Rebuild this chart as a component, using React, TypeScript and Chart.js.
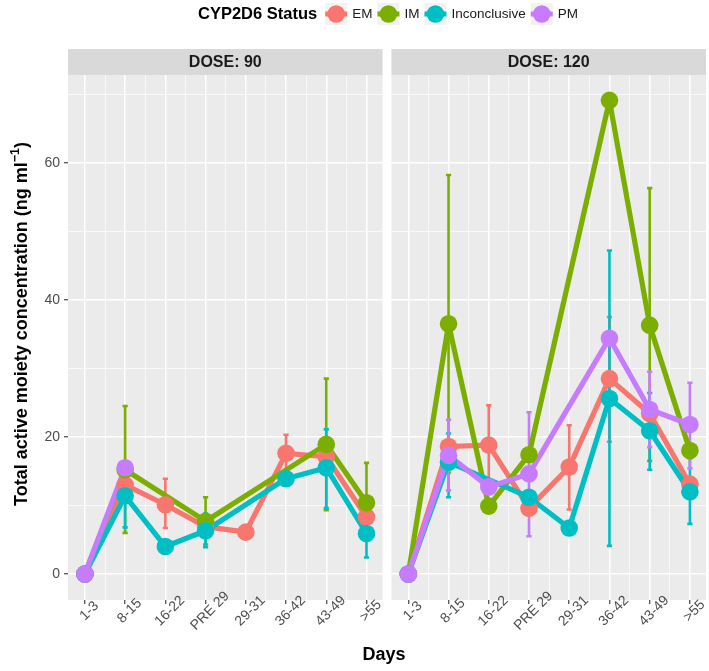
import React, { useEffect, useRef } from 'react';
import { Chart, registerables } from 'chart.js';

Chart.register(...registerables);

// ---------- data ----------
const DAYS = ['1-3', '8-15', '16-22', 'PRE 29', '29-31', '36-42', '43-49', '>55'];
const PANELS = ['DOSE: 90', 'DOSE: 120'];
const STATUS = ['EM', 'IM', 'Inconclusive', 'PM'];
const COLORS = ['#F8766D', '#7CAE00', '#00BFC4', '#C77CFF'];
const Y_MAJOR = [0, 20, 40, 60];
const Y_MINOR = [10, 30, 50, 70];

// DOSE: 90 (null = no observation)
const EM_90 = [0, 13.0, 10.1, 6.9, 6.1, 17.6, 17.1, 8.3];
const IM_90 = [0, 15.2, null, 7.7, null, null, 18.9, 10.4];
const INC_90 = [0, 11.4, 4.0, 6.3, null, 13.9, 15.5, 5.9];
const PM_90 = [0, 15.5, null, null, null, null, null, null];

// DOSE: 120
const EM_120 = [0, 18.6, 18.8, 9.6, 15.6, 28.5, 23.4, 13.1];
const IM_120 = [0, 36.5, 9.9, 17.4, null, 69.1, 36.3, 18.0];
const INC_120 = [0, 16.3, null, 11.2, 6.7, 25.6, 20.9, 12.0];
const PM_120 = [0, 17.3, 12.7, 14.6, null, 34.4, 24.0, 21.8];

// error bars [lower, upper]
const EM_90_ERR = [null, null, [6.7, 13.9], null, null, [15.0, 20.3], null, null];
const IM_90_ERR = [null, [6.0, 24.5], null, [4.3, 11.2], null, null, [9.3, 28.5], [5.5, 16.2]];
const INC_90_ERR = [null, [6.8, 14.5], null, [3.9, 8.8], null, null, [9.6, 21.1], [2.4, 8.5]];
const PM_90_ERR = [null, null, null, null, null, null, null, null];

const EM_120_ERR = [null, null, [12.8, 24.6], null, [9.4, 21.7], [19.3, 37.5], null, null];
const IM_120_ERR = [null, [14.8, 58.2], null, null, null, null, [16.5, 56.3], null];
const INC_120_ERR = [null, [11.2, 20.5], null, null, null, [4.1, 47.2], [15.2, 26.4], [7.3, 16.9]];
const PM_120_ERR = [null, [12.2, 22.5], null, [5.5, 23.6], null, null, [18.5, 29.5], [15.4, 27.9]];

const SERIES = [
  [EM_90, IM_90, INC_90, PM_90],
  [EM_120, IM_120, INC_120, PM_120],
];
const ERRORS = [
  [EM_90_ERR, IM_90_ERR, INC_90_ERR, PM_90_ERR],
  [EM_120_ERR, IM_120_ERR, INC_120_ERR, PM_120_ERR],
];

// ---------- layout constants ----------
const X_MIN = -0.42;
const PANEL_SPAN = 7.82;
const GAP = 0.22;
const OFFSET = PANEL_SPAN + GAP;
const X_MAX = X_MIN + 2 * PANEL_SPAN + GAP;
const Y_MIN = -3.8;
const Y_MAX = 72.8;
const FONT = "'Liberation Sans', Arial, Helvetica, sans-serif";

const localPos = (v: number) => (v > 7.6 ? v - OFFSET : v);
const isMajorX = (v: number) => {
  const l = localPos(v);
  return Math.abs(l - Math.round(l)) < 0.01;
};

function buildDatasets() {
  const lines: any[] = [];
  const points: any[] = [];
  for (let s = 0; s < STATUS.length; s++) {
    for (let p = 0; p < 2; p++) {
      const data = SERIES[p][s]
        .map((v, i) => (v === null ? null : { x: i + p * OFFSET, y: v }))
        .filter((d) => d !== null);
      lines.push({
        label: STATUS[s] + ' line ' + PANELS[p],
        data,
        borderColor: COLORS[s],
        backgroundColor: COLORS[s],
        borderWidth: 5.2,
        borderJoinStyle: 'round',
        pointRadius: 0,
        showLine: true,
        tension: 0,
        fill: false,
      });
      points.push({
        label: STATUS[s] + ' pts ' + PANELS[p],
        data,
        borderColor: COLORS[s],
        backgroundColor: COLORS[s],
        pointBackgroundColor: COLORS[s],
        pointBorderWidth: 0,
        pointRadius: 8.8,
        showLine: false,
      });
    }
  }
  const all = [...lines, ...points];
  // first in list is drawn first (highest order value)
  return all.map((d, i) => ({ ...d, order: all.length - i }));
}

const facetPlugin = {
  id: 'facets',
  beforeDraw(chart: any) {
    const { ctx, chartArea, scales } = chart;
    const x = scales.x;
    ctx.save();
    ctx.fillStyle = '#FFFFFF';
    ctx.fillRect(0, 0, chart.width, chart.height);
    for (let p = 0; p < 2; p++) {
      const l = x.getPixelForValue(X_MIN + p * OFFSET);
      const r = x.getPixelForValue(X_MIN + PANEL_SPAN + p * OFFSET);
      ctx.fillStyle = '#EBEBEB';
      ctx.fillRect(l, chartArea.top, r - l, chartArea.bottom - chartArea.top);
      ctx.fillStyle = '#D9D9D9';
      ctx.fillRect(l, 49, r - l, chartArea.top - 49);
    }
    ctx.restore();
  },
  beforeDatasetsDraw(chart: any) {
    const { ctx, scales } = chart;
    const x = scales.x;
    const y = scales.y;
    ctx.save();
    ctx.lineWidth = 2.6;
    ctx.lineCap = 'butt';
    for (let s = 0; s < STATUS.length; s++) {
      for (let p = 0; p < 2; p++) {
        ERRORS[p][s].forEach((e: any, i: number) => {
          if (!e) return;
          const px = x.getPixelForValue(i + p * OFFSET);
          const y0 = y.getPixelForValue(e[0]);
          const y1 = y.getPixelForValue(e[1]);
          ctx.strokeStyle = COLORS[s];
          ctx.beginPath();
          ctx.moveTo(px, y0);
          ctx.lineTo(px, y1);
          ctx.moveTo(px - 2.6, y0);
          ctx.lineTo(px + 2.6, y0);
          ctx.moveTo(px - 2.6, y1);
          ctx.lineTo(px + 2.6, y1);
          ctx.stroke();
        });
      }
    }
    ctx.restore();
  },
  afterDraw(chart: any) {
    const { ctx, chartArea, scales } = chart;
    const x = scales.x;
    ctx.save();
    // strip labels
    ctx.fillStyle = '#1A1A1A';
    ctx.font = `bold 16px ${FONT}`;
    ctx.textAlign = 'center';
    ctx.textBaseline = 'middle';
    for (let p = 0; p < 2; p++) {
      const l = x.getPixelForValue(X_MIN + p * OFFSET);
      const r = x.getPixelForValue(X_MIN + PANEL_SPAN + p * OFFSET);
      ctx.fillText(PANELS[p], (l + r) / 2, 62.5);
    }
    // x tick labels (rotated 45, centred)
    ctx.fillStyle = '#4D4D4D';
    ctx.font = `14px ${FONT}`;
    for (let p = 0; p < 2; p++) {
      DAYS.forEach((d, i) => {
        const px = x.getPixelForValue(i + p * OFFSET);
        ctx.save();
        ctx.translate(px + 4.5, 611);
        ctx.rotate(-Math.PI / 4);
        ctx.textAlign = 'center';
        ctx.textBaseline = 'middle';
        ctx.fillText(d, 0, 0);
        ctx.restore();
      });
    }
    // x title
    ctx.fillStyle = '#000000';
    ctx.font = `bold 18px ${FONT}`;
    ctx.textAlign = 'center';
    ctx.textBaseline = 'middle';
    ctx.fillText('Days', (chartArea.left + chartArea.right) / 2 - 3, 655);
    // y title with superscript
    const main = 'Total active moiety concentration (ng ml';
    const sup = '\u22121';
    const close = ')';
    ctx.font = `bold 18px ${FONT}`;
    const wMain = ctx.measureText(main).width;
    const wClose = ctx.measureText(close).width;
    ctx.font = `bold 12.5px ${FONT}`;
    const wSup = ctx.measureText(sup).width;
    const total = wMain + wSup + wClose;
    ctx.save();
    ctx.translate(22, 324);
    ctx.rotate(-Math.PI / 2);
    ctx.textAlign = 'left';
    ctx.textBaseline = 'middle';
    let cx = -total / 2;
    ctx.font = `bold 18px ${FONT}`;
    ctx.fillText(main, cx, 0);
    cx += wMain;
    ctx.font = `bold 12.5px ${FONT}`;
    ctx.fillText(sup, cx, -6);
    cx += wSup;
    ctx.font = `bold 18px ${FONT}`;
    ctx.fillText(close, cx, 0);
    ctx.restore();
    // legend
    ctx.textAlign = 'left';
    ctx.textBaseline = 'middle';
    ctx.font = `bold 16.5px ${FONT}`;
    ctx.fillStyle = '#000000';
    const ly = 14;
    ctx.fillText('CYP2D6 Status', 198, ly);
    let kx = 198 + ctx.measureText('CYP2D6 Status').width + 8;
    ctx.font = `13.5px ${FONT}`;
    STATUS.forEach((s, i) => {
      ctx.fillStyle = '#F2F2F2';
      ctx.fillRect(kx, ly - 11, 22, 22);
      ctx.strokeStyle = COLORS[i];
      ctx.lineWidth = 5;
      ctx.beginPath();
      ctx.moveTo(kx, ly);
      ctx.lineTo(kx + 22, ly);
      ctx.stroke();
      ctx.fillStyle = COLORS[i];
      ctx.beginPath();
      ctx.arc(kx + 11, ly, 8.8, 0, Math.PI * 2);
      ctx.fill();
      ctx.fillStyle = '#1A1A1A';
      ctx.fillText(s, kx + 27, ly + 0.5);
      kx += 27 + ctx.measureText(s).width + 5;
    });
    ctx.restore();
  },
};

export default function App() {
  const ref = useRef<HTMLCanvasElement>(null);
  useEffect(() => {
    Chart.defaults.font.family = FONT;
    const chart = new Chart(ref.current as HTMLCanvasElement, {
      type: 'line',
      data: { datasets: buildDatasets() as any },
      options: {
        responsive: false,
        animation: false,
        events: [],
        devicePixelRatio: 1,
        layout: { autoPadding: false, padding: { top: 75, right: 3, left: 0, bottom: 0 } },
        plugins: {
          legend: { display: false },
          tooltip: { enabled: false },
          title: { display: false },
        },
        scales: {
          x: {
            type: 'linear',
            min: X_MIN,
            max: X_MAX,
            afterBuildTicks: (scale: any) => {
              const t: any[] = [];
              for (let p = 0; p < 2; p++) {
                for (let k = 0; k <= 14; k++) t.push({ value: k / 2 + p * OFFSET });
              }
              scale.ticks = t;
            },
            afterFit: (scale: any) => {
              scale.height = 71;
            },
            ticks: { display: false, autoSkip: false },
            grid: {
              color: '#FFFFFF',
              lineWidth: (c: any) => (c.tick && isMajorX(c.tick.value) ? 1.5 : 0.7),
              drawTicks: true,
              tickLength: 4,
              tickWidth: 1.1,
              tickColor: (c: any) => (c.tick && isMajorX(c.tick.value) ? '#333333' : 'rgba(0,0,0,0)'),
            },
            border: { display: false },
          },
          y: {
            type: 'linear',
            min: Y_MIN,
            max: Y_MAX,
            afterBuildTicks: (scale: any) => {
              scale.ticks = [...Y_MAJOR, ...Y_MINOR].sort((a, b) => a - b).map((v) => ({ value: v }));
            },
            afterFit: (scale: any) => {
              scale.width = 68;
            },
            ticks: {
              autoSkip: false,
              color: '#4D4D4D',
              font: { size: 14, family: FONT },
              padding: 4,
              callback: (v: any) => (Y_MAJOR.includes(Number(v)) ? String(v) : ''),
            },
            grid: {
              color: '#FFFFFF',
              lineWidth: (c: any) => (c.tick && Y_MAJOR.includes(c.tick.value) ? 1.5 : 0.7),
              drawTicks: true,
              tickLength: 4,
              tickWidth: 1.1,
              tickColor: (c: any) => (c.tick && Y_MAJOR.includes(c.tick.value) ? '#333333' : 'rgba(0,0,0,0)'),
            },
            border: { display: false },
          },
        },
      },
      plugins: [facetPlugin],
    });
    return () => chart.destroy();
  }, []);
  return (
    <div style={{ position: 'fixed', left: 0, top: 0, width: 709, height: 671, background: '#FFFFFF' }}>
      <canvas ref={ref} width={709} height={671} style={{ display: 'block', width: 709, height: 671 }} />
    </div>
  );
}
